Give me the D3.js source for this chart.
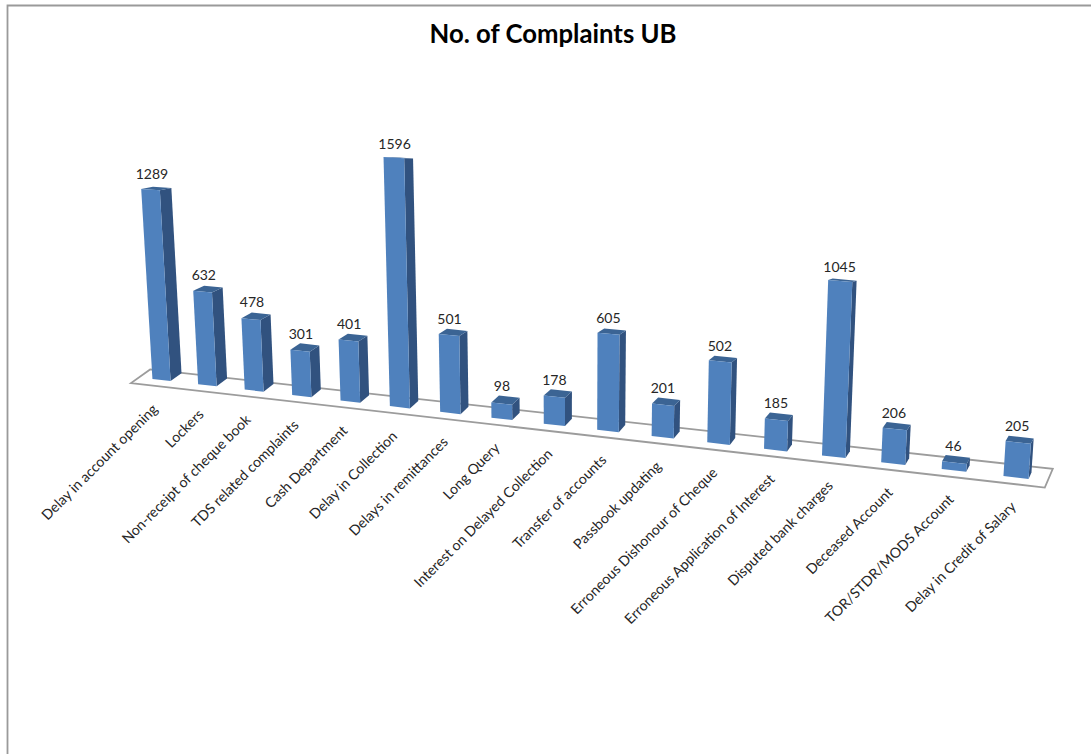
<!DOCTYPE html>
<html>
<head>
<meta charset="utf-8">
<script src="https://cdn.jsdelivr.net/npm/d3@7"></script>
<style>
  html, body { margin: 0; padding: 0; background: #fff; }
  svg { display: block; font-family: Lato, "Open Sans", sans-serif; }
</style>
</head>
<body>
<svg id="chart" width="1091" height="754"></svg>
<script>
const categories = [
  "Delay in account opening", "Lockers", "Non-receipt of cheque book",
  "TDS related complaints", "Cash Department", "Delay in Collection",
  "Delays in remittances", "Long Query", "Interest on Delayed Collection",
  "Transfer of accounts", "Passbook updating", "Erroneous Dishonour of Cheque",
  "Erroneous Application of Interest", "Disputed bank charges", "Deceased Account",
  "TOR/STDR/MODS Account", "Delay in Credit of Salary"
];
const complaints = [1289, 632, 478, 301, 401, 1596, 501, 98, 178, 605, 201, 502, 185, 1045, 206, 46, 205];
const titleText = "No. of Complaints UB";

const colors = { front: "#4f81bd", side: "#31527f", top: "#3b6494", floor: "#9c9c9c", frame: "#9a9a9a", text: "#262626" };

const svg = d3.select("#chart");
const last = categories.length - 1;

// Perspective along the category axis: slots widen toward the viewer on the right.
const warp = 1.175;
const slotX = d3.scaleLinear().domain([0, 1]).range([161.5, 1016]);
const alongAxis = i => {
  const t = i / last;
  return slotX(t / (warp + (1 - warp) * t));
};
const groundLine = d3.scaleLinear().domain([152, 1029]).range([379, 479]);
const depthX = d3.scaleLinear().domain([0, last]).range([11, 3]);
const depthY = d3.scaleLinear().domain([0, last]).range([-8, -6.5]);
const valueHeight = d3.scaleLinear().domain([0, 1000]).range([0, 145.5]);
const nearness = d3.scaleLinear().domain([0, last]).range([1, 1.171]);

// Verticals converge on a point far below the chart; taller bars reach closer to the eye.
const vanishX = 571, vanishDist = 7100, depthShrink = 0.03, eyeHeight = 12000;

const barHeight = (i, d, value) => {
  const h = valueHeight(value) * nearness(i) * (1 - depthShrink * d);
  return h * (1 + h / eyeHeight);
};

// Maps (slot, depth, value) to screen coordinates.
function project(i, d, value) {
  const x0 = alongAxis(i);
  const gx = x0 + d * depthX(i);
  const gy = groundLine(x0) + d * depthY(i);
  const h = barHeight(i, d, value);
  return [gx + (gx - vanishX) * h / vanishDist, gy - h];
}

const poly = pts => d3.line()(pts) + "Z";

// Outer frame of the chart area
svg.append("path")
  .attr("d", "M7.5,754V5.5H1091")
  .attr("fill", "none")
  .attr("stroke", colors.frame)
  .attr("stroke-width", 1.8);

svg.append("text")
  .attr("x", 553).attr("y", 43)
  .attr("text-anchor", "middle")
  .attr("font-size", 25.7).attr("font-weight", 700)
  .attr("fill", "#000")
  .text(titleText);

// Floor plane
const floorEnds = [[-0.5, -0.7, 1], [last + 0.5, -1, 1.9]];
svg.append("path")
  .attr("d", poly([
    project(floorEnds[0][0], floorEnds[0][1], 0),
    project(floorEnds[1][0], floorEnds[1][1], 0),
    project(floorEnds[1][0], floorEnds[1][2], 0),
    project(floorEnds[0][0], floorEnds[0][2], 0)
  ]))
  .attr("fill", "#fff")
  .attr("stroke", colors.floor)
  .attr("stroke-width", 1.8);

// Bars
const half = 0.2;
const bars = svg.append("g").selectAll("g")
  .data(complaints)
  .join("g");

bars.append("path")
  .attr("fill", colors.side)
  .attr("d", (v, i) => poly([
    project(i + half, 0, 0), project(i + half, 1, 0),
    project(i + half, 1, v), project(i + half, 0, v)
  ]));
bars.append("path")
  .attr("fill", colors.top)
  .attr("d", (v, i) => poly([
    project(i - half, 0, v), project(i + half, 0, v),
    project(i + half, 1, v), project(i - half, 1, v)
  ]));
bars.append("path")
  .attr("fill", colors.front)
  .attr("d", (v, i) => poly([
    project(i - half, 0, 0), project(i + half, 0, 0),
    project(i + half, 0, v), project(i - half, 0, v)
  ]));

// Value labels above each bar
bars.append("text")
  .attr("text-anchor", "middle")
  .attr("font-size", 14)
  .attr("fill", colors.text)
  .attr("x", (v, i) => project(i, 0.3, v)[0] - 2)
  .attr("y", (v, i) => project(i, 1, v)[1] - 5 - barHeight(i, 0, v) / 60)
  .text(v => v);

// Category labels slanted up to the floor edge
const labelDx = d3.scaleLinear().domain([0, last]).range([-3, 1]);
svg.append("g").selectAll("text")
  .data(categories)
  .join("text")
  .attr("text-anchor", "end")
  .attr("font-size", 14.2)
  .attr("fill", colors.text)
  .attr("transform", (c, i) => {
    const p = project(i, 0, 0);
    return `translate(${p[0] + labelDx(i)},${p[1] + 30}) rotate(-45)`;
  })
  .text(c => c);
</script>
</body>
</html>
